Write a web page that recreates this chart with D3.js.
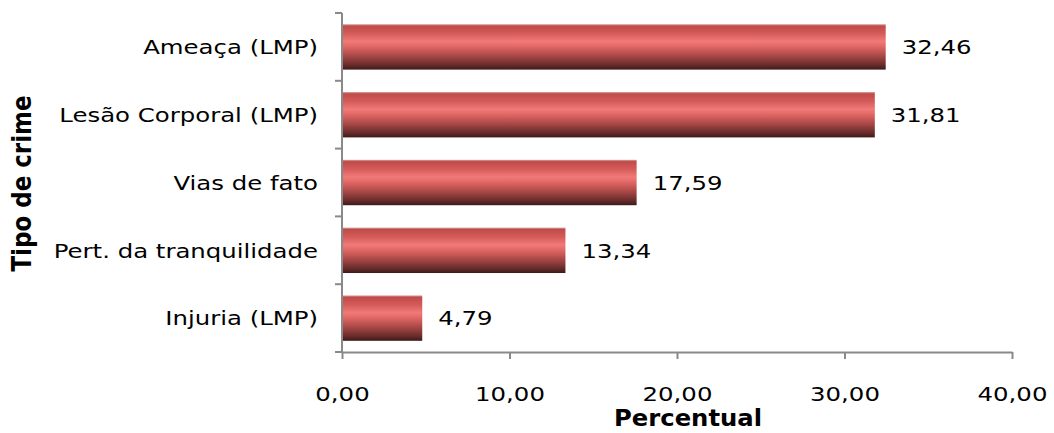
<!DOCTYPE html>
<html>
<head>
<meta charset="utf-8">
<script src="https://cdn.jsdelivr.net/npm/d3@7"></script>
<style>
  body { margin: 0; background: #fff; }
  text { font-family: "DejaVu Sans", Verdana, sans-serif; fill: #000; }
</style>
</head>
<body>
<svg id="chart"></svg>
<script>
// Chart data
const categories = ["Ameaça (LMP)", "Lesão Corporal (LMP)", "Vias de fato", "Pert. da tranquilidade", "Injuria (LMP)"];
const values = [32.46, 31.81, 17.59, 13.34, 4.79];
const xTicks = [0, 10, 20, 30, 40];

const width = 1054;
const height = 433;
const margin = { top: 13, right: 42, bottom: 81, left: 342 };
// the source text looks stretched sideways
const stretch = 1.22;

const svg = d3.select("#chart").attr("width", width).attr("height", height);

const fmt = v => d3.format(".2f")(v).replace(".", ",");

const x = d3.scaleLinear().domain([0, 40]).range([margin.left, width - margin.right]);
const y = d3.scaleBand().domain(categories).range([margin.top, height - margin.bottom]).paddingInner(0.33).paddingOuter(0.165);

// Bar gradient, dark red with a light band
const defs = svg.append("defs");
const grad = defs.append("linearGradient").attr("id", "barGrad").attr("x1", 0).attr("y1", 0).attr("x2", 0).attr("y2", 1);
[
  [0, "#d8a8a6"], [0.04, "#bf4b49"], [0.2, "#d45a58"], [0.38, "#f07a78"],
  [0.5, "#e06664"], [0.7, "#a84846"], [0.88, "#6e2e2d"], [1, "#3e1a1a"]
].forEach(([o, c]) => grad.append("stop").attr("offset", o).attr("stop-color", c));

// Bars
svg.append("g")
  .selectAll("rect")
  .data(values)
  .join("rect")
  .attr("x", x(0))
  .attr("y", (d, i) => y(categories[i]))
  .attr("width", d => x(d) - x(0))
  .attr("height", y.bandwidth())
  .attr("fill", "url(#barGrad)");

// Value labels
svg.append("g")
  .selectAll("text")
  .data(values)
  .join("text")
  .attr("transform", (d, i) => `translate(${x(d) + 16},${y(categories[i]) + y.bandwidth() / 2}) scale(${stretch},1)`)
  .attr("dy", "0.36em")
  .attr("font-size", 20)
  .text(d => fmt(d));

// X axis
const xAxis = svg.append("g")
  .attr("transform", `translate(0,${height - margin.bottom})`)
  .call(d3.axisBottom(x).tickValues(xTicks).tickFormat(fmt).tickSize(7).tickSizeOuter(0).tickPadding(28));
xAxis.select(".domain").attr("stroke", "#898989").attr("stroke-width", 2);
xAxis.selectAll(".tick line").attr("stroke", "#898989").attr("stroke-width", 2);
xAxis.selectAll(".tick text")
  .attr("font-size", 20)
  .attr("font-family", "DejaVu Sans, Verdana, sans-serif")
  .attr("fill", "#000")
  .attr("transform", `scale(${stretch},1)`);

// Y axis: ticks at category boundaries
const yAxis = svg.append("g").attr("transform", `translate(${margin.left},0)`);
yAxis.append("line")
  .attr("x1", 0).attr("x2", 0)
  .attr("y1", margin.top).attr("y2", height - margin.bottom)
  .attr("stroke", "#898989").attr("stroke-width", 2);
const step = y.step();
yAxis.selectAll("line.tk")
  .data(d3.range(categories.length + 1))
  .join("line")
  .attr("class", "tk")
  .attr("x1", -7).attr("x2", 0)
  .attr("y1", i => margin.top + i * step)
  .attr("y2", i => margin.top + i * step)
  .attr("stroke", "#898989").attr("stroke-width", 2);
yAxis.selectAll("text")
  .data(categories)
  .join("text")
  .attr("transform", d => `translate(-24,${y(d) + y.bandwidth() / 2}) scale(${stretch},1)`)
  .attr("dy", "0.36em")
  .attr("text-anchor", "end")
  .attr("font-size", 20)
  .text(d => d);

// Axis titles
svg.append("text")
  .attr("transform", `translate(688,426) scale(1.08,1)`)
  .attr("text-anchor", "middle")
  .attr("font-size", 22.5)
  .attr("font-weight", "bold")
  .text("Percentual");

svg.append("text")
  .attr("transform", `translate(31,${(margin.top + height - margin.bottom) / 2 + 1}) rotate(-90) scale(1,1.15)`)
  .attr("text-anchor", "middle")
  .attr("font-size", 23)
  .attr("font-weight", "bold")
  .text("Tipo de crime");
</script>
</body>
</html>
